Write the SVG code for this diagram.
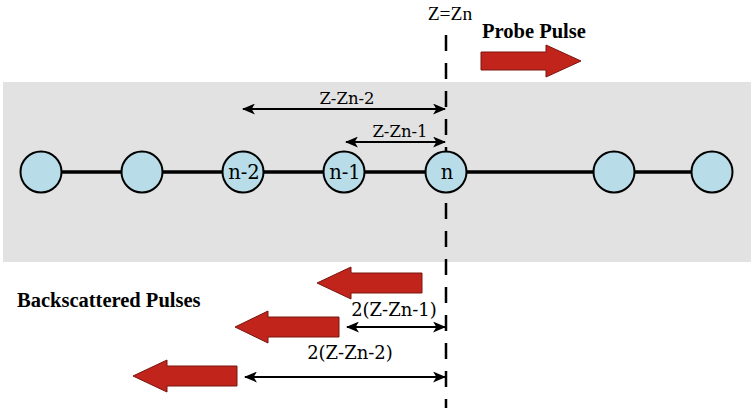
<svg xmlns="http://www.w3.org/2000/svg" width="751" height="408" viewBox="0 0 751 408">
<style>
.node{fill:#b9dde8;stroke:#000;stroke-width:2}
.lbl{font-family:'DejaVu Serif',serif;font-size:16.5px;fill:#000;text-anchor:middle}
.nl{font-family:'DejaVu Serif',serif;font-size:19.5px;fill:#000;text-anchor:middle}
.big{font-family:'DejaVu Serif',serif;font-size:18px;fill:#000;text-anchor:middle}
.tnr{font-family:'Liberation Serif','Times New Roman',serif;font-size:19.5px;fill:#000;text-anchor:middle}
.bold{font-family:'Liberation Serif','Times New Roman',serif;font-size:20.5px;font-weight:bold;fill:#000}
.dim{stroke:#000;stroke-width:2;fill:none;marker-start:url(#ah);marker-end:url(#ah)}
.pulse{fill:#c0241b;stroke:#7a1610;stroke-width:1}
</style>
<defs>
<marker id="ah" viewBox="0 0 12 10" refX="11" refY="5" markerWidth="13" markerHeight="11" markerUnits="userSpaceOnUse" orient="auto-start-reverse">
<path d="M0,0 L12,5 L0,10 L3,5 Z" fill="#000"/>
</marker>
</defs>
<rect x="3" y="82" width="748" height="180" fill="#e2e2e2"/>
<g id="connectors">
<line x1="41" y1="172" x2="712" y2="172" stroke="#000" stroke-width="3.5"/>
<line x1="446" y1="35" x2="446" y2="408" stroke="#000" stroke-width="2.5" stroke-dasharray="16 12"/>
<line class="dim" x1="243" y1="109" x2="445" y2="109"/>
<line class="dim" x1="346" y1="142" x2="445" y2="142"/>
<line class="dim" x1="347" y1="327" x2="445" y2="327"/>
<line class="dim" x1="245" y1="377" x2="445" y2="377"/>
</g>
<g id="node1"><circle class="node" cx="41" cy="172" r="20.5"/></g>
<g id="node2"><circle class="node" cx="142" cy="172" r="20.5"/></g>
<g id="node3"><circle class="node" cx="243" cy="172" r="20.5"/><text class="nl" x="244" y="179">n-2</text></g>
<g id="node4"><circle class="node" cx="344" cy="172" r="20.5"/><text class="nl" x="345" y="179">n-1</text></g>
<g id="node5"><circle class="node" cx="446" cy="172" r="20.5"/><text class="nl" x="447" y="179">n</text></g>
<g id="node6"><circle class="node" cx="614" cy="172" r="20.5"/></g>
<g id="node7"><circle class="node" cx="712" cy="172" r="20.5"/></g>
<g id="labels">
<text class="tnr" x="450" y="20">Z=Zn</text>
<text class="bold" x="482" y="38">Probe Pulse</text>
<text class="lbl" x="347" y="104">Z-Zn-2</text>
<text class="lbl" x="400" y="137">Z-Zn-1</text>
<text class="bold" x="17" y="307">Backscattered Pulses</text>
<text class="big" x="394" y="316">2(Z-Zn-1)</text>
<text class="big" x="350" y="359">2(Z-Zn-2)</text>
</g>
<g id="pulses">
<path class="pulse" d="M481,52 L546,52 L546,45 L581,61 L546,77 L546,70 L481,70 Z"/>
<path class="pulse" d="M422,273 L351,273 L351,267 L317,283 L351,299 L351,293 L422,293 Z"/>
<path class="pulse" d="M339,317 L268,317 L268,311 L235,327 L268,343 L268,337 L339,337 Z"/>
<path class="pulse" d="M237,366 L167,366 L167,360 L133,376 L167,392 L167,386 L237,386 Z"/>
</g>
</svg>
